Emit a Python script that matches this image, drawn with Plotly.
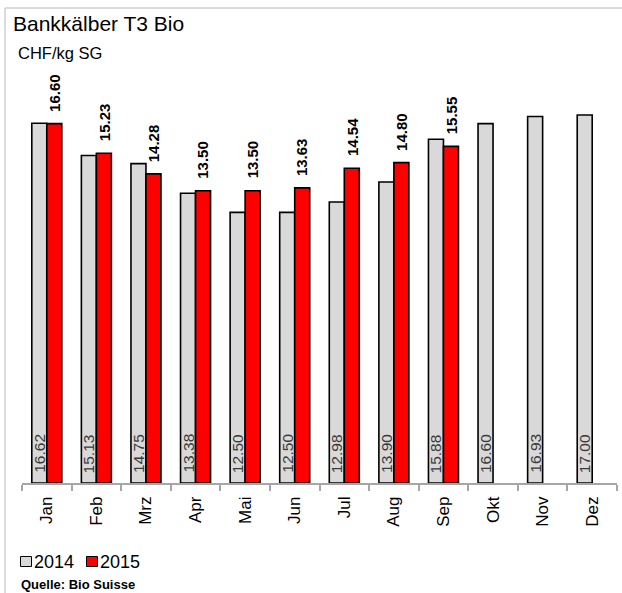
import plotly.graph_objects as go

months = ["Jan", "Feb", "Mrz", "Apr", "Mai", "Jun", "Jul", "Aug", "Sep", "Okt", "Nov", "Dez"]
v2014 = [16.62, 15.13, 14.75, 13.38, 12.50, 12.50, 12.98, 13.90, 15.88, 16.60, 16.93, 17.00]
v2015 = [16.60, 15.23, 14.28, 13.50, 13.50, 13.63, 14.54, 14.80, 15.55, None, None, None]
series_names = ["2014", "2015"]
title_text = "Bankkälber T3 Bio"
unit_text = "CHF/kg SG"
source_text = "Quelle: Bio Suisse"

W, H = 622, 593
ML, MR, MT, MB = 22, 5, 50, 110
PW, PH = W - ML - MR, H - MT - MB
BARGAP = 0.395
BAR_OFFSET = PW / len(months) * (1 - BARGAP) / 4  # half of one bar width in px

def xp(px):
    return (px - ML) / PW

def yp(py):
    return (H - MB - py) / PH

FONT = "Liberation Sans, Arial, sans-serif"
GRAY = "#d9d9d9"
RED = "#ff0000"

fig = go.Figure()
fig.add_trace(go.Bar(
    x=months, y=v2014, name=series_names[0],
    marker=dict(color=GRAY, line=dict(color="black", width=1.6)),
    hoverinfo="x+y",
))
fig.add_trace(go.Bar(
    x=months, y=v2015, name=series_names[1],
    marker=dict(color=RED, line=dict(color="black", width=1.6)),
    hoverinfo="x+y",
))

annotations = []
# value labels 2014: inside at bar base
for m, v in zip(months, v2014):
    annotations.append(dict(
        x=m, y=0, xref="x", yref="y", text=f"{v:.2f}", textangle=-90,
        xanchor="center", yanchor="bottom", xshift=-BAR_OFFSET, yshift=8,
        showarrow=False, font=dict(family=FONT, size=15.5, color="#3a3a3a"),
    ))
# value labels 2015: above bars, bold
for m, v in zip(months, v2015):
    if v is None:
        continue
    annotations.append(dict(
        x=m, y=v, xref="x", yref="y", text=f"<b>{v:.2f}</b>", textangle=-90,
        xanchor="center", yanchor="bottom", xshift=BAR_OFFSET, yshift=10,
        showarrow=False, font=dict(family=FONT, size=15, color="black"),
    ))

shapes = [
    dict(type="rect", xref="paper", yref="paper",
         x0=xp(5), x1=xp(640), y0=yp(8), y1=yp(620),
         line=dict(color="#b8b8b8", width=1), fillcolor="rgba(0,0,0,0)", layer="below"),
    dict(type="rect", xref="paper", yref="paper",
         x0=xp(20.5), x1=xp(31.5), y0=yp(556.5), y1=yp(566.5),
         line=dict(color="black", width=1), fillcolor=GRAY),
    dict(type="rect", xref="paper", yref="paper",
         x0=xp(86.5), x1=xp(97.5), y0=yp(556.5), y1=yp(566.5),
         line=dict(color="black", width=1), fillcolor=RED),
]

annotations += [
    dict(text=title_text, xref="paper", yref="paper", x=xp(11), y=yp(24),
         xanchor="left", yanchor="middle", showarrow=False,
         font=dict(family=FONT, size=21, color="black")),
    dict(text=unit_text, xref="paper", yref="paper", x=xp(16), y=yp(53),
         xanchor="left", yanchor="middle", showarrow=False,
         font=dict(family=FONT, size=16.5, color="black")),
    dict(text=series_names[0], xref="paper", yref="paper", x=xp(31.5), y=yp(561.5),
         xanchor="left", yanchor="middle", showarrow=False,
         font=dict(family=FONT, size=18, color="black")),
    dict(text=series_names[1], xref="paper", yref="paper", x=xp(97.5), y=yp(561.5),
         xanchor="left", yanchor="middle", showarrow=False,
         font=dict(family=FONT, size=18, color="black")),
    dict(text="<b>" + source_text + "</b>", xref="paper", yref="paper", x=xp(19), y=yp(584),
         xanchor="left", yanchor="middle", showarrow=False,
         font=dict(family=FONT, size=13, color="black")),
]

fig.update_layout(
    width=W, height=H,
    margin=dict(l=ML, r=MR, t=MT, b=MB, pad=0),
    paper_bgcolor="white", plot_bgcolor="white",
    barmode="group", bargap=BARGAP, bargroupgap=0,
    showlegend=False,
    shapes=shapes, annotations=annotations,
    font=dict(family=FONT, color="black"),
    xaxis=dict(
        type="category", tickson="boundaries", ticks="outside", ticklen=6,
        tickcolor="#a6a6a6", tickwidth=1.5,
        showline=True, linecolor="#a6a6a6", linewidth=1.5,
        tickangle=-90, ticklabelstandoff=5,
        tickfont=dict(family=FONT, size=17, color="black"),
        showgrid=False, zeroline=False, fixedrange=True,
    ),
    yaxis=dict(range=[0, 20], visible=False, showgrid=False, zeroline=False, fixedrange=True),
)

fig.write_html(
    "out.html",
    config={"displayModeBar": False},
    post_script="document.body.style.margin='0';document.body.style.overflow='hidden';",
)
